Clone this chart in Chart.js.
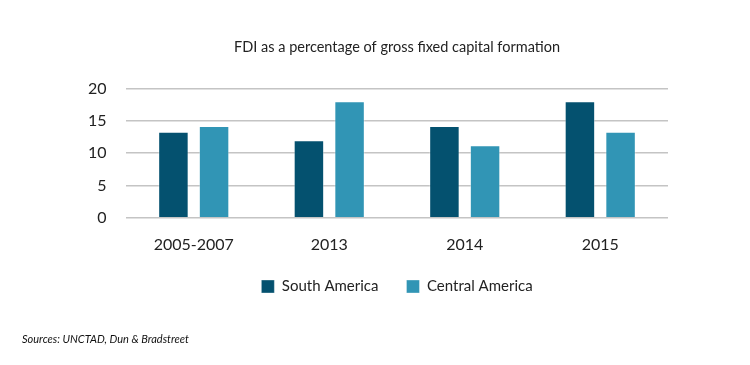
<!DOCTYPE html>
<html>
<head>
<meta charset="utf-8">
<script src="https://cdn.jsdelivr.net/npm/chart.js@4/dist/chart.umd.min.js"></script>
<style>
  html, body { margin: 0; padding: 0; background: #fff; }
  #wrap { position: relative; width: 750px; height: 365px; }
  #source {
    position: absolute; left: 22px; top: 332px;
    font-family: Lato, "Open Sans", sans-serif; font-style: italic;
    font-size: 11px; color: #111;
  }
</style>
</head>
<body>
<div id="wrap">
  <canvas id="chart" width="750" height="365"></canvas>
  <div id="source">Sources: UNCTAD, Dun &amp; Bradstreet</div>
</div>
<script>
var categories = ["2005-2007", "2013", "2014", "2015"];
var southAmerica = [13.3, 12.0, 14.2, 18.0];
var centralAmerica = [14.2, 18.0, 11.2, 13.3];
var yTicks = [0, 5, 10, 15, 20];

var font = "Lato, 'Open Sans', sans-serif";

// pull the legend up closer to the axis labels (keeps the wide item spacing)
var legendNudge = {
  id: "legendNudge",
  afterLayout: function(chart) {
    var lg = chart.legend;
    if (!lg) return;
    lg.top -= 20;
    lg.bottom -= 20;
  }
};

var ctx = document.getElementById("chart").getContext("2d");
var myChart = new Chart(ctx, {
  type: "bar",
  data: {
    labels: categories,
    datasets: [
      {
        label: "South America",
        data: southAmerica,
        backgroundColor: "#04516f",
        borderColor: "rgba(255,255,255,0.35)",
        borderWidth: 1,
        borderSkipped: "bottom"
      },
      {
        label: "Central America",
        data: centralAmerica,
        backgroundColor: "#3195b5",
        borderColor: "rgba(255,255,255,0.35)",
        borderWidth: 1,
        borderSkipped: "bottom"
      }
    ]
  },
  plugins: [legendNudge],
  options: {
    responsive: false,
    animation: false,
    datasets: { bar: { categoryPercentage: 0.6, barPercentage: 0.75 } },
    layout: { padding: { left: 126, right: 82, top: 0, bottom: 41 } },
    plugins: {
      title: {
        display: true,
        text: "FDI as a percentage of gross fixed capital formation",
        color: "#222",
        font: { family: font, size: 14.5, weight: "normal" },
        padding: { top: 39, bottom: 32 }
      },
      legend: {
        position: "bottom",
        labels: {
          color: "#222",
          font: { family: font, size: 15 },
          boxWidth: 13,
          boxHeight: 13,
          padding: 28
        }
      },
      tooltip: { enabled: false }
    },
    scales: {
      x: {
        grid: { display: false, drawTicks: false },
        border: { display: false },
        ticks: { color: "#222", font: { family: font, size: 16 }, padding: 17 }
      },
      y: {
        min: 0,
        max: 20,
        afterBuildTicks: function(scale) {
          scale.ticks = yTicks.map(function(v) { return { value: v }; });
        },
        afterFit: function(scale) { scale.width = 0; },
        grid: { color: "#c4c4c4", lineWidth: 1.5, drawTicks: false },
        border: { display: false },
        // mirrored labels are not clipped to the (zero width) axis box
        ticks: {
          mirror: true,
          crossAlign: "far",
          padding: -38,
          color: "#222",
          font: { family: font, size: 16 }
        }
      }
    }
  }
});
</script>
</body>
</html>
